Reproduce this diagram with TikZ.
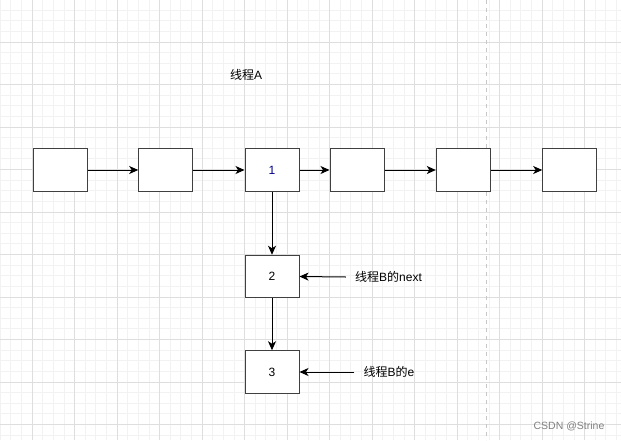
\documentclass[tikz,border=0pt]{standalone}
\usepackage{fontspec}
\setmainfont{Liberation Sans}
\newfontfamily\cjk{Noto Sans CJK SC}
\usetikzlibrary{arrows.meta,positioning}

\begin{document}
\begin{tikzpicture}[
    x=1pt, y=-1pt,
    box/.style={draw=black!75, line width=1pt, fill=white, minimum width=54pt, minimum height=42.5pt, inner sep=0pt, font=\fontsize{12}{14}\selectfont},
    arrow/.style={-{Stealth[length=9pt, width=8pt, inset=2.5pt]}, line width=1pt},
    lbl/.style={font=\fontsize{12}{14}\selectfont, inner sep=0pt, inner xsep=9pt},
    minorline/.style={draw=black!5, line width=0.8pt},
    majorline/.style={draw=black!13, line width=0.8pt}
]
\useasboundingbox[fill=white] (0,0) rectangle (621,440);

% grid
\foreach \i in {0,...,58} \draw[minorline] ({0.2+10.625*\i},0) -- ({0.2+10.625*\i},440);
\foreach \j in {1,...,41} \draw[minorline] (0,{-0.5+10.625*\j}) -- (621,{-0.5+10.625*\j});
\foreach \i in {0,...,13} \draw[majorline] ({32+42.5*\i},0) -- ({32+42.5*\i},440);
\foreach \j in {0,...,9} \draw[majorline] (0,{42+42.5*\j}) -- (621,{42+42.5*\j});
\draw[black!22, line width=0.8pt, dash pattern=on 4pt off 4pt] (486.7,0) -- (486.7,440);

% list of thread A
\node[box] (a0) at (60,170) {};
\node[box] (a1) at (165.7,170) {};
\node[box, text=blue!55!black] (a2) at (272,170) {1};
\node[box] (a3) at (357,170) {};
\node[box] (a4) at (463.3,170) {};
\node[box] (a5) at (569.7,170) {};
\node[box] (b2) at (272,276.5) {2};
\node[box] (b3) at (272,372) {3};

\node[lbl] (ta) at (246,75) {{\cjk 线程}A};
\node[lbl] (tnext) at (388.5,277) {{\cjk 线程}B{\cjk 的}next};
\node[lbl] (te) at (389,372) {{\cjk 线程}B{\cjk 的}e};
\node[font=\fontsize{10.5}{12}\selectfont, text=black!50, inner sep=0pt] (mark) at (569,426) {CSDN @Strine};

\draw[arrow] (a0) -- (a1);
\draw[arrow] (a1) -- (a2);
\draw[arrow] (a2) -- (a3);
\draw[arrow] (a3) -- (a4);
\draw[arrow] (a4) -- (a5);
\draw[arrow] (a2) -- (b2);
\draw[arrow] (b2) -- (b3);
\draw[arrow] (tnext.west) -- (b2.east);
\draw[arrow] (te.west) -- (b3.east);
\end{tikzpicture}
\end{document}
